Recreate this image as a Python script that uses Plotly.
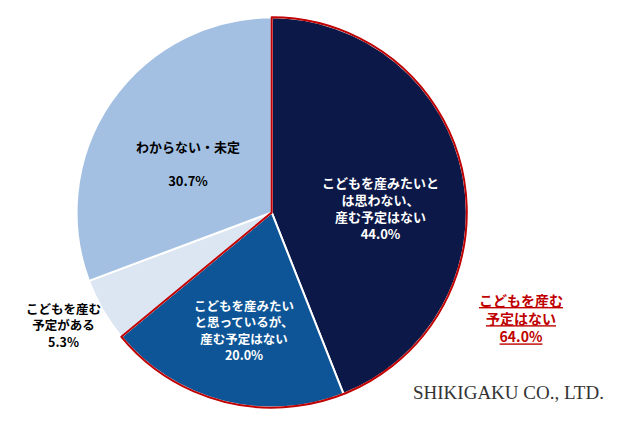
import plotly.graph_objects as go

labels = ["こどもを産みたいとは思わない、産む予定はない", "こどもを産みたいと思っているが、産む予定はない", "こどもを産む予定がある", "わからない・未定"]
values = [44.0, 20.0, 5.3, 30.7]
colors = ["#0c1847", "#0d5596", "#dce6f2", "#a3c0e3"]
group_values = [64.0, 36.0]

dom = dict(x=[0.104, 0.720], y=[0.062, 0.978])
fig = go.Figure()
fig.add_trace(go.Pie(values=values, labels=labels, sort=False, direction="clockwise", rotation=0,
                     marker=dict(colors=colors, line=dict(color="white", width=2)),
                     textinfo="none", hoverinfo="none", domain=dom, showlegend=False))
fig.add_trace(go.Pie(values=group_values, sort=False, direction="clockwise", rotation=0,
                     marker=dict(colors=["rgba(0,0,0,0)"]*2, line=dict(color=["#c00000", "rgba(0,0,0,0)"], width=2)),
                     textinfo="none", hoverinfo="none", domain=dom, showlegend=False))

F = "Noto Sans CJK JP"
def ann(x, y, t, c="white", s=13):
    fig.add_annotation(x=x/640, y=1-y/426, xref="paper", yref="paper", text=t, showarrow=False,
                       xanchor="center", yanchor="middle",
                       font=dict(family=F, size=s, color=c), align="center")
ann(372, 200, "<b>こどもを産みたいと<br>は思わない、<br>産む予定はない<br>44.0%</b>")
ann(236, 322, "<b>こどもを産みたい<br>と思っているが、<br>産む予定はない<br>20.0%</b>", s=12.5)
ann(180, 155, "<b>わからない・未定<br><br>30.7%</b>", c="black")
ann(55, 317, "<b>こどもを産む<br>予定がある<br>5.3%</b>", c="black", s=12.5)
ann(513, 310, "<b><u>こどもを産む</u><br><u>予定はない</u><br><u>64.0%</u></b>", c="#c00000", s=14)
fig.add_annotation(x=500/640, y=1-384/426, xref="paper", yref="paper", text="SHIKIGAKU CO., LTD.",
                   xanchor="center", yanchor="middle",
                   showarrow=False, font=dict(family="Liberation Serif", size=19, color="#333"))
fig.update_layout(width=640, height=426, margin=dict(l=0, r=0, t=0, b=0), paper_bgcolor="white")
fig.write_html("out.html")
